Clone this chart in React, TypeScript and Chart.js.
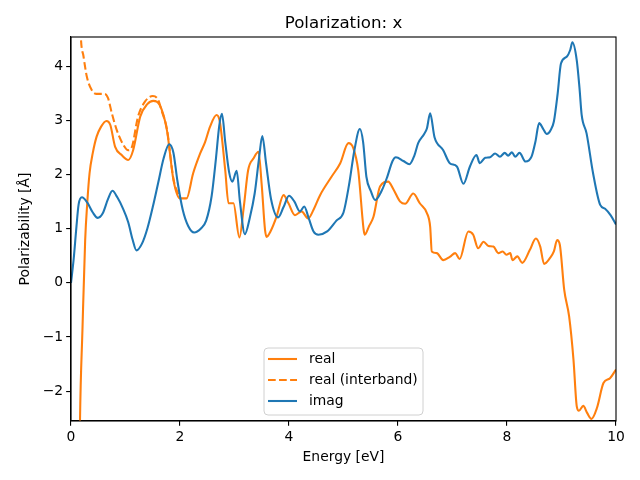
import React, { useEffect, useRef } from "react";
import { Chart, registerables } from "chart.js";

Chart.register(...registerables);

const imagE = [0.0, 0.05, 0.1, 0.14, 0.2, 0.3, 0.4, 0.49, 0.58, 0.68, 0.76, 0.85, 0.95, 1.05, 1.13, 1.2, 1.3, 1.4, 1.5, 1.6, 1.7, 1.8, 1.88, 1.95, 2.05, 2.15, 2.26, 2.38, 2.48, 2.58, 2.66, 2.72, 2.77, 2.83, 2.9, 2.96, 3.04, 3.1, 3.19, 3.28, 3.37, 3.45, 3.51, 3.58, 3.67, 3.8, 3.9, 4.0, 4.1, 4.2, 4.28, 4.36, 4.45, 4.54, 4.7, 4.87, 5.0, 5.1, 5.2, 5.3, 5.36, 5.42, 5.5, 5.58, 5.7, 5.8, 5.9, 5.96, 6.1, 6.21, 6.3, 6.37, 6.48, 6.53, 6.59, 6.67, 6.83, 6.95, 7.08, 7.2, 7.32, 7.44, 7.5, 7.6, 7.69, 7.78, 7.87, 7.96, 8.02, 8.09, 8.15, 8.23, 8.34, 8.45, 8.52, 8.59, 8.66, 8.73, 8.8, 8.86, 8.93, 8.99, 9.1, 9.16, 9.2, 9.28, 9.33, 9.37, 9.46, 9.58, 9.71, 9.8, 9.9, 10.0];
const imagV = [0.0, 0.45, 1.04, 1.45, 1.58, 1.48, 1.3, 1.2, 1.28, 1.55, 1.7, 1.58, 1.38, 1.12, 0.8, 0.6, 0.72, 1.0, 1.4, 1.85, 2.3, 2.56, 2.4, 1.9, 1.35, 1.05, 0.93, 1.0, 1.15, 1.6, 2.3, 2.9, 3.12, 2.6, 2.05, 1.87, 2.07, 1.5, 0.9, 1.2, 1.65, 2.3, 2.71, 2.2, 1.55, 1.21, 1.4, 1.61, 1.5, 1.32, 1.41, 1.2, 0.95, 0.89, 0.95, 1.15, 1.3, 1.8, 2.45, 2.84, 2.6, 1.96, 1.7, 1.53, 1.7, 1.95, 2.25, 2.32, 2.25, 2.19, 2.35, 2.58, 2.75, 2.85, 3.13, 2.69, 2.45, 2.21, 2.15, 1.83, 2.15, 2.36, 2.21, 2.31, 2.32, 2.39, 2.33, 2.4, 2.35, 2.41, 2.33, 2.4, 2.24, 2.33, 2.6, 2.95, 2.85, 2.75, 2.82, 2.98, 3.5, 4.05, 4.18, 4.3, 4.44, 4.11, 3.6, 3.1, 2.76, 2.02, 1.44, 1.37, 1.25, 1.08];

const realE = [0.15, 0.165, 0.21, 0.26, 0.3, 0.34, 0.4, 0.47, 0.55, 0.65, 0.72, 0.81, 0.93, 1.05, 1.14, 1.27, 1.4, 1.51, 1.63, 1.76, 1.88, 2.0, 2.12, 2.24, 2.37, 2.46, 2.55, 2.67, 2.73, 2.83, 2.89, 2.98, 3.09, 3.17, 3.25, 3.35, 3.44, 3.5, 3.56, 3.59, 3.66, 3.77, 3.9, 3.99, 4.11, 4.23, 4.35, 4.45, 4.57, 4.78, 4.94, 5.09, 5.18, 5.27, 5.37, 5.39, 5.47, 5.55, 5.67, 5.82, 5.92, 6.04, 6.13, 6.28, 6.4, 6.53, 6.59, 6.62, 6.71, 6.83, 6.95, 7.05, 7.13, 7.29, 7.38, 7.47, 7.57, 7.66, 7.75, 7.84, 7.92, 7.99, 8.06, 8.1, 8.19, 8.28, 8.42, 8.53, 8.61, 8.68, 8.79, 8.86, 8.92, 8.97, 9.05, 9.14, 9.22, 9.28, 9.32, 9.4, 9.47, 9.55, 9.65, 9.77, 9.89, 10.0];
const realV = [-4.0, -2.55, -0.87, 0.79, 1.5, 2.02, 2.4, 2.7, 2.88, 2.99, 2.92, 2.51, 2.36, 2.27, 2.45, 3.07, 3.3, 3.36, 3.28, 2.82, 1.9, 1.56, 1.56, 2.02, 2.39, 2.6, 2.88, 3.1, 2.98, 2.08, 1.47, 1.47, 0.84, 1.4, 2.08, 2.3, 2.42, 1.8, 0.98, 0.85, 0.95, 1.22, 1.62, 1.47, 1.25, 1.32, 1.19, 1.35, 1.62, 1.96, 2.21, 2.58, 2.49, 2.08, 0.98, 0.89, 1.05, 1.22, 1.78, 1.87, 1.72, 1.5, 1.46, 1.65, 1.47, 1.29, 1.04, 0.58, 0.55, 0.42, 0.48, 0.55, 0.44, 0.95, 0.89, 0.64, 0.76, 0.68, 0.67, 0.55, 0.58, 0.52, 0.55, 0.42, 0.49, 0.37, 0.61, 0.82, 0.67, 0.35, 0.46, 0.58, 0.79, 0.7, -0.13, -0.62, -1.42, -2.28, -2.36, -2.27, -2.4, -2.51, -2.31, -1.85, -1.76, -1.6];

const interE = [0.15, 0.18, 0.23, 0.29, 0.38, 0.47, 0.62, 0.68, 0.75, 0.84, 0.96, 1.05, 1.11, 1.23, 1.36, 1.5, 1.6, 1.66, 1.76, 1.88, 2.0];
const interV = [5.5, 4.55, 4.18, 3.81, 3.56, 3.49, 3.49, 3.41, 3.13, 2.82, 2.55, 2.45, 2.49, 3.07, 3.35, 3.45, 3.38, 3.19, 2.84, 1.92, 1.56];

const xTicks = [0, 2, 4, 6, 8, 10];
const yTicks = [-2, -1, 0, 1, 2, 3, 4];
const seriesLabels = ["real", "real (interband)", "imag"];

const ORANGE = "#ff7f0e";
const BLUE = "#1f77b4";
const FONT = "'DejaVu Sans', sans-serif";
const PX = 100 / 72;

const zip = (xs: number[], ys: number[]) => xs.map((x, i) => ({ x, y: ys[i] }));
const fmt = (v: number) => (v < 0 ? "\u2212" + Math.abs(v) : String(v));

const framePlugin = {
  id: "frameAndLegend",
  afterDraw(chart: any) {
    const { ctx, chartArea: a } = chart;
    ctx.save();
    ctx.strokeStyle = "#000";
    ctx.lineWidth = 0.8 * PX;
    ctx.strokeRect(a.left, a.top, a.right - a.left, a.bottom - a.top);

    // legend
    const bx = 264, by = 348, bw = 159, bh = 67, r = 4;
    ctx.beginPath();
    ctx.moveTo(bx + r, by);
    ctx.lineTo(bx + bw - r, by);
    ctx.quadraticCurveTo(bx + bw, by, bx + bw, by + r);
    ctx.lineTo(bx + bw, by + bh - r);
    ctx.quadraticCurveTo(bx + bw, by + bh, bx + bw - r, by + bh);
    ctx.lineTo(bx + r, by + bh);
    ctx.quadraticCurveTo(bx, by + bh, bx, by + bh - r);
    ctx.lineTo(bx, by + r);
    ctx.quadraticCurveTo(bx, by, bx + r, by);
    ctx.closePath();
    ctx.fillStyle = "rgba(255,255,255,0.8)";
    ctx.fill();
    ctx.strokeStyle = "#d0d0d0";
    ctx.lineWidth = 1;
    ctx.stroke();

    const rows = [359, 380, 401];
    chart.data.datasets.forEach((ds: any, i: number) => {
      const y = rows[i];
      ctx.beginPath();
      ctx.setLineDash(ds.borderDash || []);
      ctx.strokeStyle = ds.borderColor;
      ctx.lineWidth = ds.borderWidth;
      ctx.moveTo(268, y);
      ctx.lineTo(297, y);
      ctx.stroke();
      ctx.setLineDash([]);
      ctx.fillStyle = "#000";
      ctx.font = `${10 * PX}px ${FONT}`;
      ctx.textBaseline = "middle";
      ctx.textAlign = "left";
      ctx.fillText(ds.label, 309, y);
    });
    ctx.restore();
  },
};

export default function App() {
  const ref = useRef<HTMLCanvasElement>(null);
  useEffect(() => {
    if (!ref.current) return;
    const lw = 1.5 * PX;
    const chart = new Chart(ref.current, {
      type: "line",
      data: {
        datasets: [
          {
            label: seriesLabels[0],
            data: zip(realE, realV),
            borderColor: ORANGE,
            borderWidth: lw,
            pointRadius: 0,
            cubicInterpolationMode: "monotone",
            order: 2,
          },
          {
            label: seriesLabels[1],
            data: zip(interE, interV),
            borderColor: ORANGE,
            borderWidth: lw,
            borderDash: [3.7 * lw, 1.6 * lw],
            pointRadius: 0,
            cubicInterpolationMode: "monotone",
            order: 1,
          },
          {
            label: seriesLabels[2],
            data: zip(imagE, imagV),
            borderColor: BLUE,
            borderWidth: lw,
            pointRadius: 0,
            cubicInterpolationMode: "monotone",
            order: 0,
          },
        ],
      },
      options: {
        animation: false,
        responsive: false,
        devicePixelRatio: 1,
        layout: { padding: { left: 0, right: 24, top: 0, bottom: 0 } },
        plugins: {
          legend: { display: false },
          tooltip: { enabled: false },
          title: {
            display: true,
            text: "Polarization: x",
            color: "#000",
            fullSize: false,
            font: { family: FONT, size: 12 * PX, weight: "normal" },
            padding: { top: 14, bottom: 3 },
          },
        },
        scales: {
          x: {
            type: "linear",
            min: 0,
            max: 10,
            afterBuildTicks: (s: any) => {
              s.ticks = xTicks.map((v) => ({ value: v }));
            },
            afterFit: (s: any) => {
              s.height = 59;
            },
            grid: {
              drawOnChartArea: false,
              drawTicks: true,
              tickLength: 3.5 * PX,
              color: "#000",
              lineWidth: 0.8 * PX,
            },
            border: { display: true, color: "#000", width: 0.8 * PX },
            ticks: {
              color: "#000",
              padding: 3,
              maxRotation: 0,
              font: { family: FONT, size: 10 * PX },
              callback: (v: any) => fmt(Number(v)),
            },
            title: {
              display: true,
              text: "Energy [eV]",
              color: "#000",
              font: { family: FONT, size: 10 * PX },
              padding: { top: 4, bottom: 14.7 },
            },
          },
          y: {
            type: "linear",
            min: -2.55,
            max: 4.54,
            afterBuildTicks: (s: any) => {
              s.ticks = yTicks.map((v) => ({ value: v }));
            },
            afterFit: (s: any) => {
              s.width = 71;
            },
            grid: {
              drawOnChartArea: false,
              drawTicks: true,
              tickLength: 3.5 * PX,
              color: "#000",
              lineWidth: 0.8 * PX,
            },
            border: { display: true, color: "#000", width: 0.8 * PX },
            ticks: {
              color: "#000",
              padding: 3,
              font: { family: FONT, size: 10 * PX },
              callback: (v: any) => fmt(Number(v)),
            },
            title: {
              display: true,
              text: "Polarizability [Å]",
              color: "#000",
              font: { family: FONT, size: 10 * PX },
              padding: { top: 16.7, bottom: 0 },
            },
          },
        },
      },
      plugins: [framePlugin],
    } as any);
    return () => chart.destroy();
  }, []);
  return (
    <div style={{ position: "fixed", left: 0, top: 0, width: 640, height: 480, background: "#fff" }}>
      <canvas ref={ref} width={640} height={480} />
    </div>
  );
}
